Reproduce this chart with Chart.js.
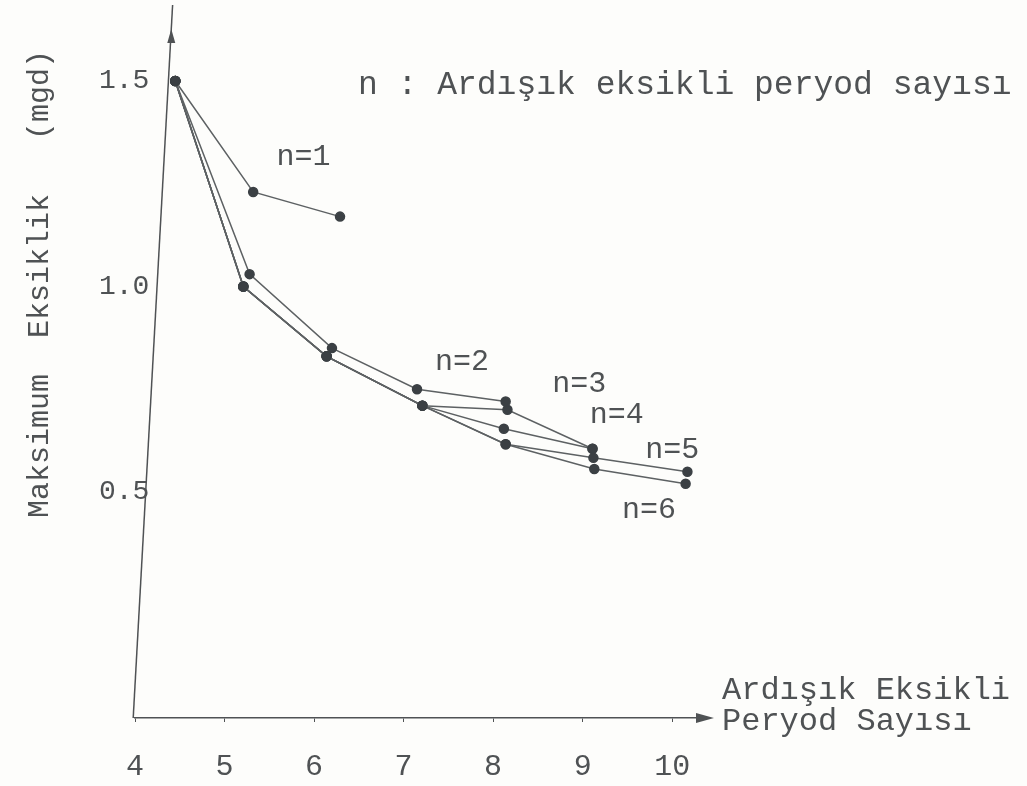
<!DOCTYPE html>
<html>
<head>
<meta charset="utf-8">
<script src="https://cdn.jsdelivr.net/npm/chart.js@4"></script>
<style>
  html, body { margin: 0; padding: 0; background: #fdfdfb; }
</style>
</head>
<body>
<canvas id="myChart" width="1027" height="786"></canvas>
<script>
// tick values
const xTicks = [4, 5, 6, 7, 8, 9, 10];
const yTicks = [0.5, 1.0, 1.5];

// curves, one per n (x = period count, y = max deficit in mgd)
const n1X = [4.45, 5.32, 6.29];
const n1Y = [1.50, 1.23, 1.17];
const n2X = [4.45, 5.28, 6.20, 7.15, 8.14];
const n2Y = [1.50, 1.03, 0.85, 0.75, 0.72];
const n3X = [4.45, 5.21, 6.14, 7.21, 8.16, 9.11];
const n3Y = [1.50, 1.00, 0.83, 0.71, 0.70, 0.605];
const n4X = [4.45, 5.21, 6.14, 7.21, 8.12, 9.11];
const n4Y = [1.50, 1.00, 0.83, 0.71, 0.654, 0.605];
const n5X = [4.45, 5.21, 6.14, 7.21, 8.14, 9.12, 10.17];
const n5Y = [1.50, 1.00, 0.83, 0.71, 0.616, 0.583, 0.549];
const n6X = [4.45, 5.21, 6.14, 7.21, 8.14, 9.13, 10.15];
const n6Y = [1.50, 1.00, 0.83, 0.71, 0.616, 0.556, 0.520];

const seriesNames = ['n=1', 'n=2', 'n=3', 'n=4', 'n=5', 'n=6'];
const seriesX = [n1X, n2X, n3X, n4X, n5X, n6X];
const seriesY = [n1Y, n2Y, n3Y, n4Y, n5Y, n6Y];

// where the n=.. labels sit (data units)
const labelAt = [[5.58, 1.315], [7.35, 0.816], [8.66, 0.763], [9.08, 0.687], [9.70, 0.602], [9.44, 0.456]];

const ink = '#4f5254';
const mono = "'Liberation Mono', 'DejaVu Sans Mono', monospace";

const datasets = seriesNames.map((name, i) => ({
    label: name,
    data: seriesX[i].map((v, j) => ({ x: v, y: seriesY[i][j] })),
    showLine: true,
    borderColor: '#5d6163',
    borderWidth: 1.5,
    pointRadius: 4.5,
    pointBackgroundColor: '#3b4044',
    pointBorderColor: '#3b4044',
    tension: 0
}));

const notes = {
    id: 'notes',
    afterDraw(chart) {
        const { ctx, chartArea: a, scales: { x, y } } = chart;
        ctx.save();
        ctx.strokeStyle = ink;
        ctx.fillStyle = ink;
        ctx.lineWidth = 1.5;

        // slanted hand drawn y axis with arrow
        const x0 = x.getPixelForValue(3.98), y0 = a.bottom;
        const x1 = x.getPixelForValue(4.42), y1 = a.top - 2;
        ctx.beginPath();
        ctx.moveTo(x0, y0);
        ctx.lineTo(x1, y1);
        ctx.stroke();
        const t = (y0 - (a.top + 22)) / (y0 - y1);
        const tipX = x0 + (x1 - x0) * t, tipY = a.top + 22;
        ctx.beginPath();
        ctx.moveTo(tipX, tipY);
        ctx.lineTo(tipX - 4, tipY + 14);
        ctx.lineTo(tipX + 4, tipY + 14);
        ctx.closePath();
        ctx.fill();

        // x axis arrow
        ctx.beginPath();
        ctx.moveTo(a.right + 6, a.bottom);
        ctx.lineTo(a.right - 12, a.bottom - 5);
        ctx.lineTo(a.right - 12, a.bottom + 5);
        ctx.closePath();
        ctx.fill();

        ctx.font = '30px ' + mono;
        ctx.textBaseline = 'middle';
        ctx.textAlign = 'left';

        // curve labels
        seriesNames.forEach((name, i) => {
            ctx.fillText(name, x.getPixelForValue(labelAt[i][0]), y.getPixelForValue(labelAt[i][1]));
        });

        // note
        ctx.font = '33px ' + mono;
        ctx.fillText('n : Ardışık eksikli peryod sayısı', a.left + 223, a.top + 78);

        // x axis title
        ctx.font = '32px ' + mono;
        ctx.fillText('Ardışık Eksikli', a.right + 14, a.bottom - 27);
        ctx.fillText('Peryod Sayısı', a.right + 14, a.bottom + 4);

        // y axis title
        ctx.translate(40, 284);
        ctx.rotate(-Math.PI / 2);
        ctx.textAlign = 'center';
        ctx.font = '30px ' + mono;
        ctx.fillText('Maksimum  Eksiklik   (mgd)', 0, 0);
        ctx.restore();
    }
};

const ctx = document.querySelector('#myChart').getContext('2d');
const myChart = new Chart(ctx, {
    type: 'scatter',
    data: { datasets: datasets },
    options: {
        responsive: false,
        animation: false,
        layout: { padding: { left: 0, right: 319, top: 7, bottom: 0 } },
        plugins: {
            legend: { display: false },
            tooltip: { enabled: false }
        },
        scales: {
            x: {
                type: 'linear',
                min: 4,
                max: 10.4,
                afterBuildTicks: s => { s.ticks = xTicks.map(v => ({ value: v })); },
                afterFit: s => { s.height = 68; },
                border: { display: true, color: ink, width: 1.5 },
                grid: { drawOnChartArea: false, drawTicks: true, tickLength: 4, color: ink },
                ticks: {
                    padding: 27,
                    color: ink,
                    font: { family: mono, size: 30 },
                    callback: v => String(v)
                }
            },
            y: {
                type: 'linear',
                min: -0.05,
                max: 1.68,
                afterBuildTicks: s => { s.ticks = yTicks.map(v => ({ value: v })); },
                afterFit: s => { s.width = 135; },
                border: { display: false },
                grid: { display: false, drawTicks: false },
                ticks: {
                    mirror: true,
                    crossAlign: 'near',
                    padding: -36,
                    color: ink,
                    font: { family: mono, size: 28 },
                    callback: v => v.toFixed(1)
                }
            }
        }
    },
    plugins: [notes]
});
</script>
</body>
</html>
